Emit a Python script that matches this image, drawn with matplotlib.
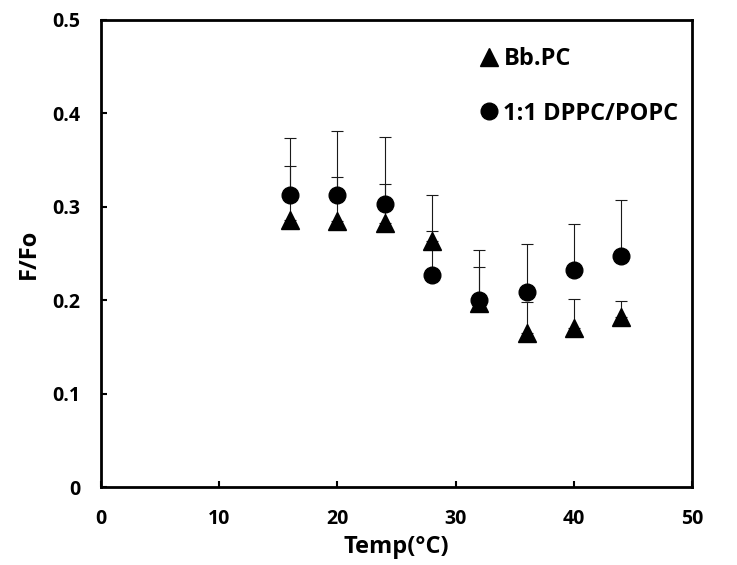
import matplotlib
matplotlib.use("Agg")
import matplotlib.pyplot as plt
from matplotlib.lines import Line2D

# data
temps = [16, 20, 24, 28, 32, 36, 40, 44]
bbpc = [0.286, 0.285, 0.283, 0.263, 0.197, 0.165, 0.170, 0.182]
bbpc_err = [0.057, 0.047, 0.041, 0.050, 0.038, 0.033, 0.031, 0.017]
dppc_popc = [0.313, 0.312, 0.303, 0.227, 0.200, 0.209, 0.232, 0.247]
dppc_popc_err = [0.061, 0.069, 0.072, 0.047, 0.054, 0.051, 0.049, 0.060]

plt.rcParams['font.family'] = ['Open Sans', 'DejaVu Sans']
plt.rcParams['font.weight'] = 'bold'

fig = plt.figure(figsize=(7.37, 5.65), dpi=100)
ax = fig.add_axes([0.137, 0.138, 0.802, 0.827])

ax.errorbar(temps, bbpc, yerr=[[0] * len(bbpc), bbpc_err], fmt='^', color='black',
            ecolor='#1a1a1a', elinewidth=0.8, capsize=4.5, capthick=0.8,
            markersize=13)
ax.errorbar(temps, dppc_popc, yerr=[[0] * len(dppc_popc), dppc_popc_err], fmt='o', color='black',
            ecolor='#1a1a1a', elinewidth=0.8, capsize=4.5, capthick=0.8,
            markersize=12)

ax.set_xlim(0, 50)
ax.set_ylim(0, 0.5)
ax.set_xticks([0, 10, 20, 30, 40, 50])
ax.set_yticks([0, 0.1, 0.2, 0.3, 0.4, 0.5])
ax.set_yticklabels(['0', '0.1', '0.2', '0.3', '0.4', '0.5'])

for s in ax.spines.values():
    s.set_linewidth(2)
ax.tick_params(direction='in', length=4, width=1.5, labelsize=14)
ax.tick_params(axis='x', pad=16)
ax.tick_params(axis='y', pad=15)
for lbl in ax.get_xticklabels() + ax.get_yticklabels():
    lbl.set_fontweight('bold')

ax.set_xlabel('Temp(°C)', fontsize=17, fontweight='bold', labelpad=4)
ax.set_ylabel('F/Fo', fontsize=17, fontweight='bold', labelpad=8)

handles = [Line2D([], [], marker='^', color='black', linestyle='none', markersize=13),
           Line2D([], [], marker='o', color='black', linestyle='none', markersize=12)]
ax.legend(handles, ['Bb.PC', '1:1 DPPC/POPC'], loc='upper left', frameon=False,
          handletextpad=0.15, handlelength=0.95, prop={'size': 17, 'weight': 'bold'},
          labelspacing=1.3, bbox_to_anchor=(0.621, 0.962), borderaxespad=0)

fig.savefig('out.png', dpi=100)
